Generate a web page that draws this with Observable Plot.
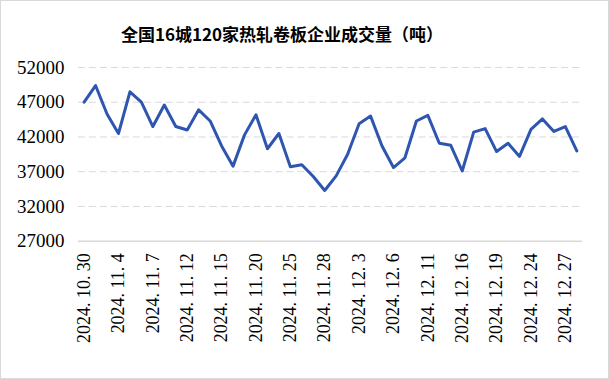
<!DOCTYPE html>
<html>
<head>
<meta charset="utf-8">
<script src="https://cdn.jsdelivr.net/npm/d3@7"></script>
<script src="https://cdn.jsdelivr.net/npm/@observablehq/plot@0.6"></script>
<style>
  html, body { margin: 0; padding: 0; background: #fff; }
  #wrap { position: relative; width: 609px; height: 379px; box-sizing: border-box; border: 1px solid #d9d9d9; overflow: hidden; }
  #title { position: absolute; top: 20px; left: 0; width: 562px; text-align: center; font-family: "Noto Sans CJK SC", sans-serif; font-weight: bold; font-size: 17px; color: #000; }
  #chart { position: absolute; top: 49px; left: -1px; }
</style>
</head>
<body>
<div id="wrap">
  <div id="title">全国16城120家热轧卷板企业成交量（吨）</div>
  <div id="chart"></div>
</div>
<script>
const dates = [
  "2024. 10. 30","2024. 10. 31","2024. 11. 1","2024. 11. 4","2024. 11. 5","2024. 11. 6","2024. 11. 7","2024. 11. 8",
  "2024. 11. 11","2024. 11. 12","2024. 11. 13","2024. 11. 14","2024. 11. 15","2024. 11. 18","2024. 11. 19","2024. 11. 20",
  "2024. 11. 21","2024. 11. 22","2024. 11. 25","2024. 11. 26","2024. 11. 27","2024. 11. 28","2024. 11. 29","2024. 12. 2",
  "2024. 12. 3","2024. 12. 4","2024. 12. 5","2024. 12. 6","2024. 12. 9","2024. 12. 10","2024. 12. 11","2024. 12. 12",
  "2024. 12. 13","2024. 12. 16","2024. 12. 17","2024. 12. 18","2024. 12. 19","2024. 12. 20","2024. 12. 23","2024. 12. 24",
  "2024. 12. 25","2024. 12. 26","2024. 12. 27","2024. 12. 30"
];
const volumes = [
  47000, 49400, 45300, 42500, 48500, 47000, 43500, 46600,
  43500, 43000, 45900, 44300, 40700, 37800, 42300, 45200,
  40300, 42500, 37700, 38000, 36300, 34300, 36400, 39500,
  43900, 45000, 40700, 37600, 39000, 44300, 45100, 41100,
  40800, 37100, 42700, 43200, 39900, 41100, 39200, 43100,
  44600, 42800, 43500, 40000
];
const xTickLabels = [
  "2024. 10. 30","2024. 11. 4","2024. 11. 7","2024. 11. 12","2024. 11. 15","2024. 11. 20","2024. 11. 25","2024. 11. 28",
  "2024. 12. 3","2024. 12. 6","2024. 12. 11","2024. 12. 16","2024. 12. 19","2024. 12. 24","2024. 12. 27"
];
const yTicks = [27000, 32000, 37000, 42000, 47000, 52000];

const data = dates.map((d, i) => ({date: d, value: volumes[i]}));

const chart = Plot.plot({
  width: 609,
  height: 330,
  marginTop: 17,
  marginBottom: 139,
  marginLeft: 78,
  marginRight: 26,
  style: {background: "transparent", fontFamily: "Liberation Serif, serif", color: "#000", overflow: "visible"},
  x: {type: "point", domain: dates, padding: 0.5, round: false, label: null},
  y: {domain: [27000, 52000], label: null},
  marks: [
    Plot.ruleY(yTicks.filter(t => t !== 27000), {stroke: "#d9d9d9", strokeWidth: 1, strokeDasharray: "7,4"}),
    Plot.ruleY([27000], {stroke: "#d9d9d9", strokeWidth: 1.5}),
    Plot.axisY({ticks: yTicks, tickSize: 0, tickPadding: 14, tickFormat: d => String(d), fontSize: 19, label: null}),
    Plot.axisX({ticks: xTickLabels, tickSize: 0, tickPadding: 12, tickRotate: -90, fontSize: 18, label: null}),
    Plot.line(data, {x: "date", y: "value", stroke: "#2e56b0", strokeWidth: 3})
  ]
});
document.getElementById("chart").appendChild(chart);
</script>
</body>
</html>
